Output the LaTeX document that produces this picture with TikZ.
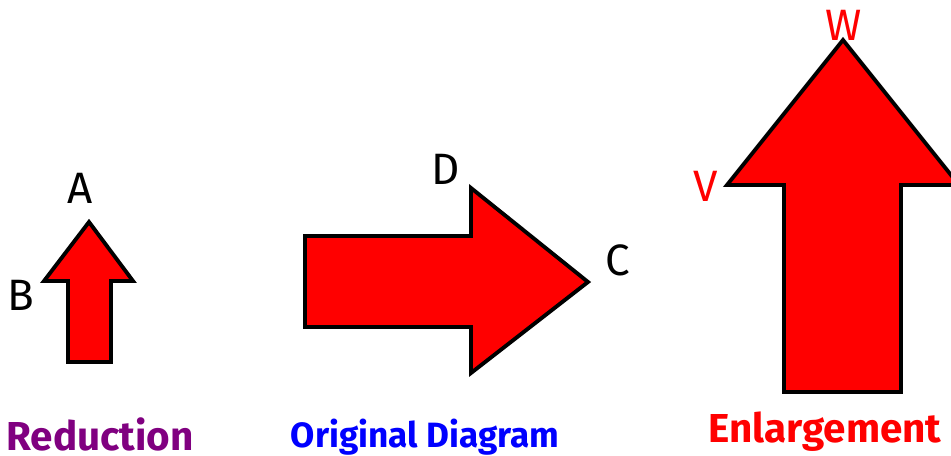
\documentclass[tikz,border=0pt]{standalone}
\usepackage{fontspec}
\setmainfont{Fira Sans}
\definecolor{redpurple}{RGB}{128,0,128}
\begin{document}
\begin{tikzpicture}[x=0.02cm, y=-0.02cm,
	arrowbody/.style={draw=black, fill=red, line width=2.2pt, line join=miter},
	corner/.style={font=\fontsize{25}{25}\selectfont, inner sep=0pt},
	caption/.style={font=\bfseries\fontsize{23}{23}\selectfont, anchor=base, inner sep=0pt}]
	
	\useasboundingbox (0,0) rectangle (951,456);
	\clip (0,0) rectangle (951,456);
	
	% reduction
	\draw [arrowbody] (89,222) -- (133,281) -- (111,281) -- (111,362) -- (68,362) -- (68,281) -- (44,281) -- cycle;
	\node (A) [corner] at (80,188) {A};
	\node (B) [corner] at (21,295) {B};
	
	% original diagram
	\draw [arrowbody] (588,282) -- (471,373) -- (471,327) -- (305,327) -- (305,236) -- (471,236) -- (471,188) -- cycle;
	\node (D) [corner] at (446,169) {D};
	\node (C) [corner] at (618,260) {C};
	
	% enlargement
	\draw [arrowbody] (843,40) -- (959,185) -- (901,185) -- (901,392) -- (784,392) -- (784,185) -- (727,185) -- cycle;
	\node (W) [corner, text=red] at (844,25) {W};
	\node (V) [corner, text=red] at (706,186) {V};
	
	% captions
	\node (reduction) [caption, text=redpurple] at (100,450) {Reduction};
	\node (original) [caption, text=blue, font=\bfseries\fontsize{20}{20}\selectfont] at (425,447) {Original Diagram};
	\node (enlarge) [caption, text=red] at (825,442) {Enlargement};
\end{tikzpicture}
\end{document}
